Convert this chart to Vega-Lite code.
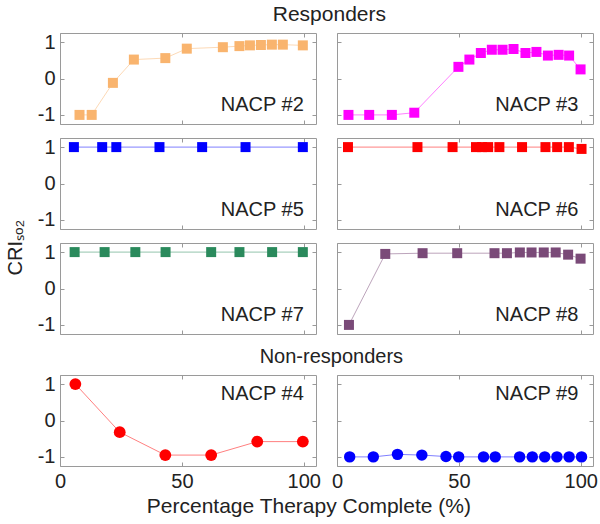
{
  "$schema": "https://vega.github.io/schema/vega-lite/v6.json",
  "background": "white",
  "padding": {"left": 5, "right": 0, "top": 3, "bottom": 3},
  "config": {
    "font": "Liberation Sans",
    "view": {"stroke": "#9a9a9a", "strokeWidth": 1},
    "axis": {"labelFontSize": 20, "labelColor": "#222", "tickSize": -4, "tickColor": "#999", "domain": false, "grid": false, "labelPadding": 9, "labelFlush": false, "titleFontSize": 20},
    "title": {"fontSize": 20, "fontWeight": "normal", "color": "#222", "font": "Liberation Sans"}
  },
  "datasets": {
    "d": [
      {"p": "NACP #2", "x": 8, "y": -1},
      {"p": "NACP #2", "x": 13, "y": -1},
      {"p": "NACP #2", "x": 21.7, "y": -0.12},
      {"p": "NACP #2", "x": 30.3, "y": 0.52},
      {"p": "NACP #2", "x": 43.2, "y": 0.56},
      {"p": "NACP #2", "x": 52, "y": 0.82},
      {"p": "NACP #2", "x": 66.8, "y": 0.86},
      {"p": "NACP #2", "x": 73.6, "y": 0.89},
      {"p": "NACP #2", "x": 77.9, "y": 0.91},
      {"p": "NACP #2", "x": 82.4, "y": 0.92},
      {"p": "NACP #2", "x": 86.9, "y": 0.93},
      {"p": "NACP #2", "x": 91.4, "y": 0.93},
      {"p": "NACP #2", "x": 99.6, "y": 0.91},
      {"p": "NACP #3", "x": 4.7, "y": -1},
      {"p": "NACP #3", "x": 13.2, "y": -1},
      {"p": "NACP #3", "x": 22.5, "y": -1},
      {"p": "NACP #3", "x": 31.7, "y": -0.94},
      {"p": "NACP #3", "x": 49.8, "y": 0.32},
      {"p": "NACP #3", "x": 54.3, "y": 0.52},
      {"p": "NACP #3", "x": 59, "y": 0.7},
      {"p": "NACP #3", "x": 63.5, "y": 0.79},
      {"p": "NACP #3", "x": 67.9, "y": 0.79},
      {"p": "NACP #3", "x": 72.4, "y": 0.81},
      {"p": "NACP #3", "x": 77.3, "y": 0.7},
      {"p": "NACP #3", "x": 81.8, "y": 0.73},
      {"p": "NACP #3", "x": 86.5, "y": 0.63},
      {"p": "NACP #3", "x": 90.9, "y": 0.65},
      {"p": "NACP #3", "x": 95.2, "y": 0.63},
      {"p": "NACP #3", "x": 99.9, "y": 0.25},
      {"p": "NACP #5", "x": 5.7, "y": 1},
      {"p": "NACP #5", "x": 17.3, "y": 1},
      {"p": "NACP #5", "x": 23.1, "y": 1},
      {"p": "NACP #5", "x": 40.8, "y": 1},
      {"p": "NACP #5", "x": 58.3, "y": 1},
      {"p": "NACP #5", "x": 76.1, "y": 1},
      {"p": "NACP #5", "x": 99.6, "y": 1},
      {"p": "NACP #6", "x": 4.5, "y": 1},
      {"p": "NACP #6", "x": 33, "y": 1},
      {"p": "NACP #6", "x": 47.4, "y": 1},
      {"p": "NACP #6", "x": 57, "y": 1},
      {"p": "NACP #6", "x": 59.5, "y": 1},
      {"p": "NACP #6", "x": 62, "y": 1},
      {"p": "NACP #6", "x": 66.6, "y": 1},
      {"p": "NACP #6", "x": 75.9, "y": 1},
      {"p": "NACP #6", "x": 85.5, "y": 1},
      {"p": "NACP #6", "x": 90.3, "y": 1},
      {"p": "NACP #6", "x": 95.1, "y": 1},
      {"p": "NACP #6", "x": 100.3, "y": 0.95},
      {"p": "NACP #7", "x": 6, "y": 1},
      {"p": "NACP #7", "x": 18.3, "y": 1},
      {"p": "NACP #7", "x": 30.9, "y": 1},
      {"p": "NACP #7", "x": 43.3, "y": 1},
      {"p": "NACP #7", "x": 62, "y": 1},
      {"p": "NACP #7", "x": 73.6, "y": 1},
      {"p": "NACP #7", "x": 87, "y": 1},
      {"p": "NACP #7", "x": 99.6, "y": 1},
      {"p": "NACP #8", "x": 4.9, "y": -1},
      {"p": "NACP #8", "x": 19.8, "y": 0.95},
      {"p": "NACP #8", "x": 35.1, "y": 0.97},
      {"p": "NACP #8", "x": 49.3, "y": 0.97},
      {"p": "NACP #8", "x": 64.6, "y": 0.97},
      {"p": "NACP #8", "x": 69.7, "y": 0.97},
      {"p": "NACP #8", "x": 75, "y": 0.99},
      {"p": "NACP #8", "x": 79.8, "y": 0.99},
      {"p": "NACP #8", "x": 84.8, "y": 0.99},
      {"p": "NACP #8", "x": 89.7, "y": 0.99},
      {"p": "NACP #8", "x": 94.8, "y": 0.93},
      {"p": "NACP #8", "x": 99.9, "y": 0.82},
      {"p": "NACP #4", "x": 6.3, "y": 1},
      {"p": "NACP #4", "x": 24.5, "y": -0.32},
      {"p": "NACP #4", "x": 43.2, "y": -0.95},
      {"p": "NACP #4", "x": 62, "y": -0.95},
      {"p": "NACP #4", "x": 80.9, "y": -0.58},
      {"p": "NACP #4", "x": 99.6, "y": -0.58},
      {"p": "NACP #9", "x": 5.2, "y": -1},
      {"p": "NACP #9", "x": 14.9, "y": -1},
      {"p": "NACP #9", "x": 24.8, "y": -0.93},
      {"p": "NACP #9", "x": 34.8, "y": -0.95},
      {"p": "NACP #9", "x": 44.7, "y": -0.99},
      {"p": "NACP #9", "x": 49.9, "y": -1},
      {"p": "NACP #9", "x": 60.1, "y": -1},
      {"p": "NACP #9", "x": 64.9, "y": -1},
      {"p": "NACP #9", "x": 74.9, "y": -1},
      {"p": "NACP #9", "x": 80.1, "y": -1},
      {"p": "NACP #9", "x": 85.2, "y": -1},
      {"p": "NACP #9", "x": 90.2, "y": -1},
      {"p": "NACP #9", "x": 95.2, "y": -1},
      {"p": "NACP #9", "x": 100.3, "y": -1}
    ]
  },
  "title": {"text": "Percentage Therapy Complete (%)", "orient": "bottom", "anchor": "middle", "offset": 4, "fontSize": 21, "dx": 7},
  "vconcat": [
    {
      "title": {"text": "CRIₛₒ₂", "orient": "left", "anchor": "middle", "offset": 11},
      "spacing": 10,
      "vconcat": [
        {
          "title": {"text": "Responders", "anchor": "middle", "offset": 7, "dx": 14, "fontSize": 21},
          "columns": 2,
          "bounds": "flush",
          "spacing": {"row": 14, "column": 21},
          "concat": [
            {"width": 256, "height": 91, "resolve": {"axis": {"x": "independent", "y": "independent"}},
             "layer": [
              {"data": {"name": "d"}, "transform": [{"filter": "datum.p === 'NACP #2'"}],
               "mark": {"type": "line", "color": "#f9b46e", "strokeWidth": 1, "opacity": 0.5},
               "encoding": {"x": {"field": "x", "type": "quantitative", "scale": {"domain": [0, 105], "nice": false}, "axis": {"orient": "bottom", "values": [0, 50, 100], "labels": false, "title": null}},
                            "y": {"field": "y", "type": "quantitative", "scale": {"domain": [-1.25, 1.25], "nice": false}, "axis": {"orient": "left", "values": [-1, 0, 1], "labels": true, "title": null, "labelExpr": "datum.value + ''"}}}},
              {"data": {"name": "d"}, "transform": [{"filter": "datum.p === 'NACP #2'"}],
               "mark": {"type": "square", "color": "#f9b46e", "size": 100, "opacity": 1},
               "encoding": {"x": {"field": "x", "type": "quantitative", "axis": {"orient": "top", "values": [0, 50, 100], "labels": false, "title": null}},
                            "y": {"field": "y", "type": "quantitative", "axis": {"orient": "right", "values": [-1, 0, 1], "labels": false, "title": null}}}},
              {"data": {"values": [{"t": "NACP #2"}]},
               "mark": {"type": "text", "align": "right", "baseline": "middle", "fontSize": 20, "color": "#222"},
               "encoding": {"x": {"datum": 100, "type": "quantitative", "axis": null}, "y": {"datum": -0.74, "type": "quantitative", "axis": null}, "text": {"field": "t"}}}
             ]},
            {"width": 256, "height": 91, "resolve": {"axis": {"x": "independent", "y": "independent"}},
             "layer": [
              {"data": {"name": "d"}, "transform": [{"filter": "datum.p === 'NACP #3'"}],
               "mark": {"type": "line", "color": "#ff00ff", "strokeWidth": 1, "opacity": 0.5},
               "encoding": {"x": {"field": "x", "type": "quantitative", "scale": {"domain": [0, 105], "nice": false}, "axis": {"orient": "bottom", "values": [0, 50, 100], "labels": false, "title": null}},
                            "y": {"field": "y", "type": "quantitative", "scale": {"domain": [-1.25, 1.25], "nice": false}, "axis": {"orient": "left", "values": [-1, 0, 1], "labels": false, "title": null}}}},
              {"data": {"name": "d"}, "transform": [{"filter": "datum.p === 'NACP #3'"}],
               "mark": {"type": "square", "color": "#ff00ff", "size": 100, "opacity": 1},
               "encoding": {"x": {"field": "x", "type": "quantitative", "axis": {"orient": "top", "values": [0, 50, 100], "labels": false, "title": null}},
                            "y": {"field": "y", "type": "quantitative", "axis": {"orient": "right", "values": [-1, 0, 1], "labels": false, "title": null}}}},
              {"data": {"values": [{"t": "NACP #3"}]},
               "mark": {"type": "text", "align": "right", "baseline": "middle", "fontSize": 20, "color": "#222"},
               "encoding": {"x": {"datum": 99, "type": "quantitative", "axis": null}, "y": {"datum": -0.74, "type": "quantitative", "axis": null}, "text": {"field": "t"}}}
             ]},
            {"width": 256, "height": 91, "resolve": {"axis": {"x": "independent", "y": "independent"}},
             "layer": [
              {"data": {"name": "d"}, "transform": [{"filter": "datum.p === 'NACP #5'"}],
               "mark": {"type": "line", "color": "#0000ff", "strokeWidth": 1, "opacity": 0.5},
               "encoding": {"x": {"field": "x", "type": "quantitative", "scale": {"domain": [0, 105], "nice": false}, "axis": {"orient": "bottom", "values": [0, 50, 100], "labels": false, "title": null}},
                            "y": {"field": "y", "type": "quantitative", "scale": {"domain": [-1.25, 1.25], "nice": false}, "axis": {"orient": "left", "values": [-1, 0, 1], "labels": true, "title": null, "labelExpr": "datum.value + ''"}}}},
              {"data": {"name": "d"}, "transform": [{"filter": "datum.p === 'NACP #5'"}],
               "mark": {"type": "square", "color": "#0000ff", "size": 100, "opacity": 1},
               "encoding": {"x": {"field": "x", "type": "quantitative", "axis": {"orient": "top", "values": [0, 50, 100], "labels": false, "title": null}},
                            "y": {"field": "y", "type": "quantitative", "axis": {"orient": "right", "values": [-1, 0, 1], "labels": false, "title": null}}}},
              {"data": {"values": [{"t": "NACP #5"}]},
               "mark": {"type": "text", "align": "right", "baseline": "middle", "fontSize": 20, "color": "#222"},
               "encoding": {"x": {"datum": 100, "type": "quantitative", "axis": null}, "y": {"datum": -0.74, "type": "quantitative", "axis": null}, "text": {"field": "t"}}}
             ]},
            {"width": 256, "height": 91, "resolve": {"axis": {"x": "independent", "y": "independent"}},
             "layer": [
              {"data": {"name": "d"}, "transform": [{"filter": "datum.p === 'NACP #6'"}],
               "mark": {"type": "line", "color": "#ff0000", "strokeWidth": 1, "opacity": 0.5},
               "encoding": {"x": {"field": "x", "type": "quantitative", "scale": {"domain": [0, 105], "nice": false}, "axis": {"orient": "bottom", "values": [0, 50, 100], "labels": false, "title": null}},
                            "y": {"field": "y", "type": "quantitative", "scale": {"domain": [-1.25, 1.25], "nice": false}, "axis": {"orient": "left", "values": [-1, 0, 1], "labels": false, "title": null}}}},
              {"data": {"name": "d"}, "transform": [{"filter": "datum.p === 'NACP #6'"}],
               "mark": {"type": "square", "color": "#ff0000", "size": 100, "opacity": 1},
               "encoding": {"x": {"field": "x", "type": "quantitative", "axis": {"orient": "top", "values": [0, 50, 100], "labels": false, "title": null}},
                            "y": {"field": "y", "type": "quantitative", "axis": {"orient": "right", "values": [-1, 0, 1], "labels": false, "title": null}}}},
              {"data": {"values": [{"t": "NACP #6"}]},
               "mark": {"type": "text", "align": "right", "baseline": "middle", "fontSize": 20, "color": "#222"},
               "encoding": {"x": {"datum": 99, "type": "quantitative", "axis": null}, "y": {"datum": -0.74, "type": "quantitative", "axis": null}, "text": {"field": "t"}}}
             ]},
            {"width": 256, "height": 91, "resolve": {"axis": {"x": "independent", "y": "independent"}},
             "layer": [
              {"data": {"name": "d"}, "transform": [{"filter": "datum.p === 'NACP #7'"}],
               "mark": {"type": "line", "color": "#2a8a5c", "strokeWidth": 1, "opacity": 0.5},
               "encoding": {"x": {"field": "x", "type": "quantitative", "scale": {"domain": [0, 105], "nice": false}, "axis": {"orient": "bottom", "values": [0, 50, 100], "labels": false, "title": null}},
                            "y": {"field": "y", "type": "quantitative", "scale": {"domain": [-1.25, 1.25], "nice": false}, "axis": {"orient": "left", "values": [-1, 0, 1], "labels": true, "title": null, "labelExpr": "datum.value + ''"}}}},
              {"data": {"name": "d"}, "transform": [{"filter": "datum.p === 'NACP #7'"}],
               "mark": {"type": "square", "color": "#2a8a5c", "size": 100, "opacity": 1},
               "encoding": {"x": {"field": "x", "type": "quantitative", "axis": {"orient": "top", "values": [0, 50, 100], "labels": false, "title": null}},
                            "y": {"field": "y", "type": "quantitative", "axis": {"orient": "right", "values": [-1, 0, 1], "labels": false, "title": null}}}},
              {"data": {"values": [{"t": "NACP #7"}]},
               "mark": {"type": "text", "align": "right", "baseline": "middle", "fontSize": 20, "color": "#222"},
               "encoding": {"x": {"datum": 100, "type": "quantitative", "axis": null}, "y": {"datum": -0.74, "type": "quantitative", "axis": null}, "text": {"field": "t"}}}
             ]},
            {"width": 256, "height": 91, "resolve": {"axis": {"x": "independent", "y": "independent"}},
             "layer": [
              {"data": {"name": "d"}, "transform": [{"filter": "datum.p === 'NACP #8'"}],
               "mark": {"type": "line", "color": "#7a4a78", "strokeWidth": 1, "opacity": 0.5},
               "encoding": {"x": {"field": "x", "type": "quantitative", "scale": {"domain": [0, 105], "nice": false}, "axis": {"orient": "bottom", "values": [0, 50, 100], "labels": false, "title": null}},
                            "y": {"field": "y", "type": "quantitative", "scale": {"domain": [-1.25, 1.25], "nice": false}, "axis": {"orient": "left", "values": [-1, 0, 1], "labels": false, "title": null}}}},
              {"data": {"name": "d"}, "transform": [{"filter": "datum.p === 'NACP #8'"}],
               "mark": {"type": "square", "color": "#7a4a78", "size": 100, "opacity": 1},
               "encoding": {"x": {"field": "x", "type": "quantitative", "axis": {"orient": "top", "values": [0, 50, 100], "labels": false, "title": null}},
                            "y": {"field": "y", "type": "quantitative", "axis": {"orient": "right", "values": [-1, 0, 1], "labels": false, "title": null}}}},
              {"data": {"values": [{"t": "NACP #8"}]},
               "mark": {"type": "text", "align": "right", "baseline": "middle", "fontSize": 20, "color": "#222"},
               "encoding": {"x": {"datum": 99, "type": "quantitative", "axis": null}, "y": {"datum": -0.74, "type": "quantitative", "axis": null}, "text": {"field": "t"}}}
             ]}
          ]
        },
        {
          "title": {"text": "Non-responders", "anchor": "middle", "offset": 7, "dx": 14},
          "spacing": 21,
          "bounds": "flush",
          "hconcat": [
            {"width": 256, "height": 91, "resolve": {"axis": {"x": "independent", "y": "independent"}},
             "layer": [
              {"data": {"name": "d"}, "transform": [{"filter": "datum.p === 'NACP #4'"}],
               "mark": {"type": "line", "color": "#ff0000", "strokeWidth": 1, "opacity": 0.5},
               "encoding": {"x": {"field": "x", "type": "quantitative", "scale": {"domain": [0, 105], "nice": false}, "axis": {"orient": "bottom", "values": [0, 50, 100], "labels": true, "title": null, "labelExpr": "datum.value + ''"}},
                            "y": {"field": "y", "type": "quantitative", "scale": {"domain": [-1.25, 1.25], "nice": false}, "axis": {"orient": "left", "values": [-1, 0, 1], "labels": true, "title": null, "labelExpr": "datum.value + ''"}}}},
              {"data": {"name": "d"}, "transform": [{"filter": "datum.p === 'NACP #4'"}],
               "mark": {"type": "circle", "color": "#ff0000", "size": 140, "opacity": 1},
               "encoding": {"x": {"field": "x", "type": "quantitative", "axis": {"orient": "top", "values": [0, 50, 100], "labels": false, "title": null}},
                            "y": {"field": "y", "type": "quantitative", "axis": {"orient": "right", "values": [-1, 0, 1], "labels": false, "title": null}}}},
              {"data": {"values": [{"t": "NACP #4"}]},
               "mark": {"type": "text", "align": "right", "baseline": "middle", "fontSize": 20, "color": "#222"},
               "encoding": {"x": {"datum": 100, "type": "quantitative", "axis": null}, "y": {"datum": 0.74, "type": "quantitative", "axis": null}, "text": {"field": "t"}}}
             ]},
            {"width": 256, "height": 91, "resolve": {"axis": {"x": "independent", "y": "independent"}},
             "layer": [
              {"data": {"name": "d"}, "transform": [{"filter": "datum.p === 'NACP #9'"}],
               "mark": {"type": "line", "color": "#0000ff", "strokeWidth": 1, "opacity": 0.5},
               "encoding": {"x": {"field": "x", "type": "quantitative", "scale": {"domain": [0, 105], "nice": false}, "axis": {"orient": "bottom", "values": [0, 50, 100], "labels": true, "title": null, "labelExpr": "datum.value + ''"}},
                            "y": {"field": "y", "type": "quantitative", "scale": {"domain": [-1.25, 1.25], "nice": false}, "axis": {"orient": "left", "values": [-1, 0, 1], "labels": false, "title": null}}}},
              {"data": {"name": "d"}, "transform": [{"filter": "datum.p === 'NACP #9'"}],
               "mark": {"type": "circle", "color": "#0000ff", "size": 130, "opacity": 1},
               "encoding": {"x": {"field": "x", "type": "quantitative", "axis": {"orient": "top", "values": [0, 50, 100], "labels": false, "title": null}},
                            "y": {"field": "y", "type": "quantitative", "axis": {"orient": "right", "values": [-1, 0, 1], "labels": false, "title": null}}}},
              {"data": {"values": [{"t": "NACP #9"}]},
               "mark": {"type": "text", "align": "right", "baseline": "middle", "fontSize": 20, "color": "#222"},
               "encoding": {"x": {"datum": 99, "type": "quantitative", "axis": null}, "y": {"datum": 0.74, "type": "quantitative", "axis": null}, "text": {"field": "t"}}}
             ]}
          ]
        }
      ]
    }
  ]
}
